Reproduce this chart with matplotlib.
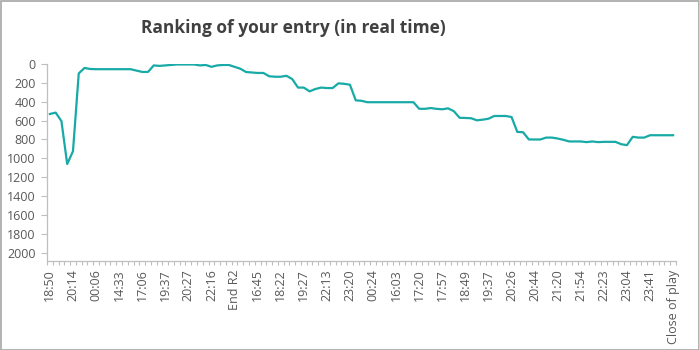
import numpy as np
import matplotlib
matplotlib.use("Agg")
import matplotlib.pyplot as plt
from matplotlib.patches import Rectangle

# ranking snapshots (lower is better), one per update
ranks = [
    530, 515, 605, 1060, 925, 100, 42, 53, 55, 55,
    55, 55, 55, 55, 55, 70, 84, 84, 15, 20,
    15, 10, 5, 5, 5, 5, 15, 10, 30, 15,
    10, 10, 30, 50, 85, 90, 95, 95, 130, 135,
    135, 125, 160, 250, 250, 290, 265, 250, 255, 255,
    205, 210, 220, 385, 390, 405, 405, 405, 405, 405,
    405, 405, 405, 405, 475, 475, 467, 475, 480, 470,
    500, 570, 572, 575, 597, 590, 580, 551, 551, 551,
    562, 720, 723, 800, 800, 800, 780, 780, 790, 804,
    821, 821, 821, 828, 821, 828, 825, 825, 825, 850,
    860, 772, 780, 780, 755, 755, 755, 755, 755,
]

# every 4th update gets a label
tick_labels = [
    "18:50", "20:14", "00:06", "14:33", "17:06", "19:37", "20:27",
    "22:16", "End R2", "16:45", "18:22", "19:27", "22:13", "23:20",
    "00:24", "16:03", "17:20", "17:57", "18:49", "19:37", "20:26",
    "20:44", "21:20", "21:54", "22:23", "23:04", "23:41", "Close of play",
]
label_step = 4

plt.rcParams['font.family'] = ['Open Sans', 'DejaVu Sans']

text_col = "#595959"
axis_col = "#bfbfbf"
line_col = "#17aaa6"

fig = plt.figure(figsize=(6.99, 3.5), dpi=100)
ax = fig.add_axes([47 / 699, 1 - 261 / 350, 629 / 699, 197 / 350])

x = np.arange(len(ranks))
ax.plot(x, ranks, color=line_col, lw=1.6, solid_joinstyle="round")

ax.set_xlim(-0.5, len(ranks) - 0.5)
ax.set_ylim(2088, 0)
ax.set_yticks(np.arange(0, 2001, 200))

ax.set_xticks(x[::label_step])
ax.set_xticklabels(tick_labels, rotation=90)
ax.set_xticks(np.arange(-0.5, len(ranks), 1), minor=True)

ax.tick_params(axis="x", which="major", length=0, pad=6, labelsize=9, colors=text_col)
ax.tick_params(axis="x", which="minor", length=3, width=0.8, color=axis_col)
ax.tick_params(axis="y", length=4, width=0.8, color=axis_col, labelsize=9,
               labelcolor=text_col, pad=4)

for side in ("top", "right"):
    ax.spines[side].set_visible(False)
for side in ("left", "bottom"):
    ax.spines[side].set_color(axis_col)
    ax.spines[side].set_linewidth(0.9)

fig.text(293 / 699, 1 - 28 / 350, "Ranking of your entry (in real time)",
         ha="center", va="center", fontsize=12.5, fontweight="bold", color="#404040")

# chart frame
fig.patches.append(Rectangle((0.5 / 699, 0.5 / 350), 698 / 699, 349 / 350,
                             transform=fig.transFigure, fill=False,
                             edgecolor="#a6a6a6", lw=1.2))

fig.savefig("out.png", dpi=100)
